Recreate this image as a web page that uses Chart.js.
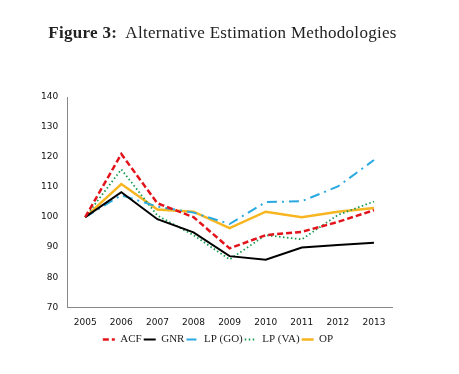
<!DOCTYPE html>
<html>
<head>
<meta charset="utf-8">
<script src="https://cdn.jsdelivr.net/npm/chart.js@4.4.1/dist/chart.umd.min.js"></script>
<style>
  html, body { margin: 0; padding: 0; background: #fff; }
  #wrap { position: relative; width: 459px; height: 374px; }
  #title {
    position: absolute; left: -7px; top: 23px; width: 459px; text-align: center;
    font-family: "Liberation Serif", serif; font-size: 17px; letter-spacing: 0.3px; color: #222;
  }
  #title b { font-weight: bold; }
  canvas { position: absolute; left: 0; top: 0; }
</style>
</head>
<body>
<div id="wrap">
  <canvas id="chart" width="459" height="374"></canvas>
  <div id="title"><b>Figure 3:</b>&nbsp; Alternative Estimation Methodologies</div>
</div>
<script>
// data
const years = ['2005', '2006', '2007', '2008', '2009', '2010', '2011', '2012', '2013'];
const acf   = [100, 121, 104.6, 100, 89.6, 94, 95.1, 98.4, 102.3];
const gnr   = [100, 108.3, 99.3, 94.9, 87, 85.8, 89.9, 90.7, 91.5];
const lpGo  = [100, 107.3, 103.5, 101.5, 97.7, 105, 105.3, 110.2, 119];
const lpVa  = [100, 115.9, 100.5, 94, 85.9, 94, 92.6, 100.7, 105.2];
const op    = [100, 111, 102.5, 101.8, 96.3, 101.8, 100, 101.8, 103];
const yMin = 70, yMax = 140, yStep = 10;

const tickFont = { family: '"DejaVu Sans", sans-serif', size: 9 };

// nudge the legend a little right, the original is not centred on the canvas
const legendNudge = {
  id: 'legendNudge',
  afterLayout(chart) {
    if (!chart.legend) return;
    chart.legend.left += 6;
    chart.legend.right += 6;
  }
};

const ctx = document.getElementById('chart').getContext('2d');
new Chart(ctx, {
  type: 'line',
  data: {
    labels: years,
    datasets: [
      { label: 'ACF', data: acf, borderColor: '#e3131b', borderWidth: 2.5, borderDash: [6, 3] },
      { label: 'GNR', data: gnr, borderColor: '#000000', borderWidth: 2 },
      { label: 'LP (GO)', data: lpGo, borderColor: '#29a9e1', borderWidth: 2, borderDash: [10, 5, 2, 5] },
      { label: 'LP (VA)', data: lpVa, borderColor: '#169a4c', borderWidth: 1.8, borderDash: [1.5, 2.5] },
      { label: 'OP', data: op, borderColor: '#f7b520', borderWidth: 2.5 }
    ]
  },
  options: {
    responsive: false,
    animation: false,
    elements: { point: { radius: 0 }, line: { tension: 0, fill: false } },
    layout: { padding: { left: 32, right: 67, top: 97, bottom: 19 } },
    plugins: {
      tooltip: { enabled: false },
      legend: {
        position: 'bottom',
        labels: {
          usePointStyle: true,
          pointStyle: 'line',
          pointStyleWidth: 12,
          boxHeight: 10,
          padding: 2,
          color: '#222',
          font: { family: '"Liberation Serif", serif', size: 11 },
          // point-style items lose the dataset's dash, so put it back
          generateLabels: (chart) => Chart.defaults.plugins.legend.labels.generateLabels(chart).map((item) => {
            const ds = chart.data.datasets[item.datasetIndex];
            item.lineDash = ds.borderDash || [];
            item.strokeStyle = ds.borderColor;
            item.lineWidth = ds.borderWidth;
            return item;
          })
        }
      }
    },
    scales: {
      x: {
        offset: true,
        grid: { display: false, drawTicks: false },
        border: { color: '#888', width: 1 },
        ticks: { color: '#111', padding: 10, font: tickFont },
        afterFit: (scale) => { scale.height -= 6; }
      },
      y: {
        min: yMin, max: yMax,
        grid: { display: false, drawTicks: false },
        border: { color: '#888', width: 1 },
        ticks: { stepSize: yStep, color: '#111', padding: 9, font: tickFont }
      }
    }
  },
  plugins: [legendNudge]
});
</script>
</body>
</html>
